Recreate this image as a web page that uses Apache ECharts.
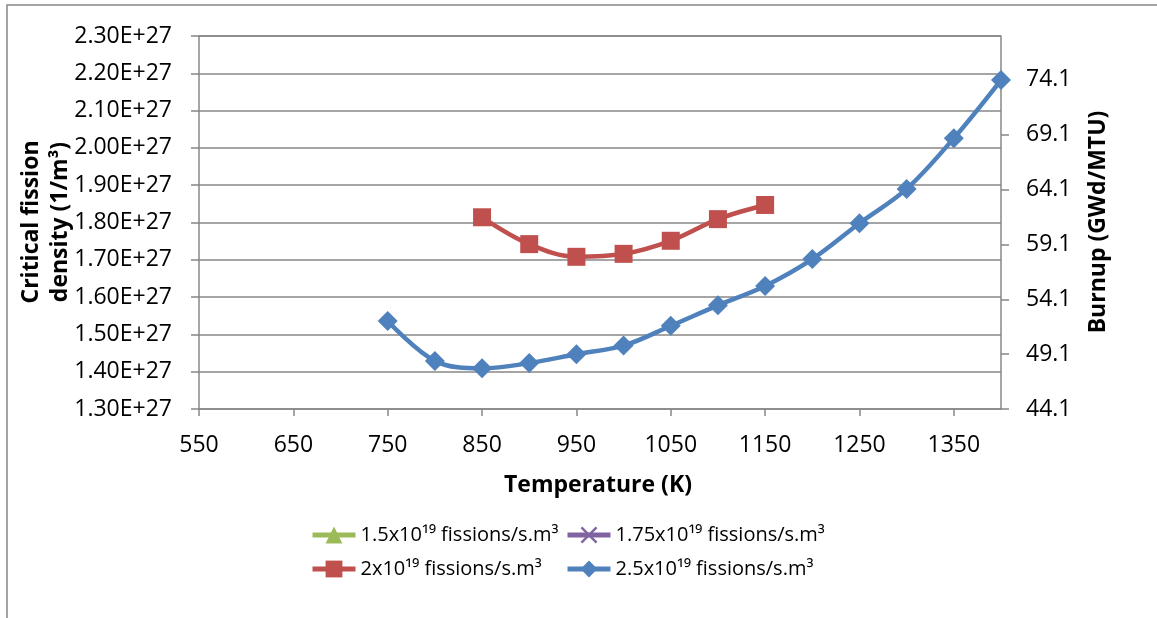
<!DOCTYPE html>
<html>
<head>
<meta charset="utf-8">
<script src="https://cdn.jsdelivr.net/npm/echarts@6/dist/echarts.min.js"></script>
<style>
html,body{margin:0;padding:0;background:#fff;}
#chart{width:1157px;height:618px;}
</style>
</head>
<body>
<div id="chart"></div>
<script>
// ---- data ----
const seriesNames = [
  '1.5x10¹⁹ fissions/s.m³',
  '1.75x10¹⁹ fissions/s.m³',
  '2x10¹⁹ fissions/s.m³',
  '2.5x10¹⁹ fissions/s.m³'
];
const temps15 = [];
const density15 = [];
const temps175 = [];
const density175 = [];
const temps20 = [850, 900, 950, 1000, 1050, 1100, 1150];
const density20 = [1.814e27, 1.742e27, 1.708e27, 1.716e27, 1.751e27, 1.809e27, 1.847e27];
const temps25 = [750, 800, 850, 900, 950, 1000, 1050, 1100, 1150, 1200, 1250, 1300, 1350, 1400];
const density25 = [1.536e27, 1.429e27, 1.409e27, 1.423e27, 1.447e27, 1.470e27, 1.523e27, 1.578e27, 1.630e27, 1.702e27, 1.798e27, 1.890e27, 2.026e27, 2.182e27];
const xTicks = [550, 650, 750, 850, 950, 1050, 1150, 1250, 1350];
const burnupTicks = [44.1, 49.1, 54.1, 59.1, 64.1, 69.1, 74.1];
const xTitle = 'Temperature (K)';
const yTitle = 'Critical fission\ndensity (1/m³)';
const y2Title = 'Burnup (GWd/MTU)';

function zip(xs, ys) { return xs.map((x, i) => [x, ys[i]]); }

const FONT = 'Open Sans';
const GRID = '#878787';
const crossPath = 'path://M0,1 L1,0 L5,4 L9,0 L10,1 L6,5 L10,9 L9,10 L5,6 L1,10 L0,9 L4,5 Z';

const chart = echarts.init(document.getElementById('chart'), null, {renderer: 'canvas'});

function legendAt(name, left, top) {
  return {
    data: [name], left: left, top: top, padding: 0, itemGap: 0,
    itemWidth: 43, itemHeight: 21, selectedMode: false,
    lineStyle: {width: 5},
    textStyle: {fontFamily: FONT, fontSize: 20, color: '#000'}
  };
}

const axisLabelBase = {fontFamily: FONT, fontSize: 23, color: '#000'};

chart.setOption({
  animation: false,
  backgroundColor: '#fff',
  grid: {left: 199, right: 156, top: 36, bottom: 209, outerBoundsMode: 'none', containLabel: false},
  legend: [
    legendAt(seriesNames[0], 310, 525),
    legendAt(seriesNames[1], 565, 525),
    legendAt(seriesNames[2], 310, 559),
    legendAt(seriesNames[3], 565, 559)
  ],
  xAxis: {
    type: 'value', min: 550, max: 1400,
    axisLine: {show: true, lineStyle: {color: GRID, width: 1.5}},
    axisTick: {show: true, length: 7, customValues: xTicks, lineStyle: {color: GRID, width: 1.5}},
    axisLabel: Object.assign({customValues: xTicks, margin: 25, formatter: v => String(v)}, axisLabelBase),
    splitLine: {show: false}
  },
  yAxis: [
    {
      type: 'value', min: 1.3e27, max: 2.3e27, interval: 1e26, position: 'left',
      axisLine: {show: true, lineStyle: {color: GRID, width: 1.5}},
      axisTick: {show: true, length: 8, lineStyle: {color: GRID, width: 1.5}},
      axisLabel: Object.assign({margin: 27, formatter: v => (v / 1e27).toFixed(2) + 'E+27'}, axisLabelBase),
      splitLine: {show: true, lineStyle: {color: GRID, width: 1.5}}
    },
    {
      type: 'value', min: 44.1, max: 78.1, position: 'right',
      axisLine: {show: true, lineStyle: {color: GRID, width: 1.5}},
      axisTick: {show: true, length: 8, customValues: burnupTicks, lineStyle: {color: GRID, width: 1.5}},
      axisLabel: Object.assign({customValues: burnupTicks, margin: 25, formatter: v => v.toFixed(1)}, axisLabelBase),
      splitLine: {show: false}
    }
  ],
  series: [
    {
      name: seriesNames[0], type: 'line', data: zip(temps15, density15),
      symbol: 'triangle', symbolSize: 16, smooth: 0.35, clip: false,
      lineStyle: {color: '#9BBB59', width: 4.5}, itemStyle: {color: '#9BBB59'}
    },
    {
      name: seriesNames[1], type: 'line', data: zip(temps175, density175),
      symbol: crossPath, symbolSize: 16, smooth: 0.35, clip: false,
      lineStyle: {color: '#8064A2', width: 4.5}, itemStyle: {color: '#8064A2'}
    },
    {
      name: seriesNames[2], type: 'line', data: zip(temps20, density20),
      symbol: 'rect', symbolSize: 18, smooth: 0.35, clip: false,
      lineStyle: {color: '#C0504D', width: 4.5}, itemStyle: {color: '#C0504D'}
    },
    {
      name: seriesNames[3], type: 'line', data: zip(temps25, density25),
      symbol: 'diamond', symbolSize: 20, smooth: 0.35, clip: false,
      lineStyle: {color: '#4F81BD', width: 4.5}, itemStyle: {color: '#4F81BD'}
    }
  ],
  graphic: [
    {type: 'rect', shape: {x: 7, y: 5, width: 1300, height: 800}, silent: true,
     style: {fill: 'none', stroke: '#868686', lineWidth: 1.5}, z: -1},
    {type: 'text', x: 598, y: 485, silent: true,
     style: {text: xTitle, fontFamily: FONT, fontSize: 23, fontWeight: 'bold', fill: '#000',
             align: 'center', verticalAlign: 'middle', textAlign: 'center', textVerticalAlign: 'middle'}},
    {type: 'text', x: 46, y: 222, rotation: Math.PI / 2, silent: true,
     style: {text: yTitle, fontFamily: FONT, fontSize: 23, fontWeight: 'bold', fill: '#000', lineHeight: 29,
             align: 'center', verticalAlign: 'middle', textAlign: 'center', textVerticalAlign: 'middle'}},
    {type: 'text', x: 1098, y: 222, rotation: Math.PI / 2, silent: true,
     style: {text: y2Title, fontFamily: FONT, fontSize: 23, fontWeight: 'bold', fill: '#000',
             align: 'center', verticalAlign: 'middle', textAlign: 'center', textVerticalAlign: 'middle'}}
  ]
});
</script>
</body>
</html>
